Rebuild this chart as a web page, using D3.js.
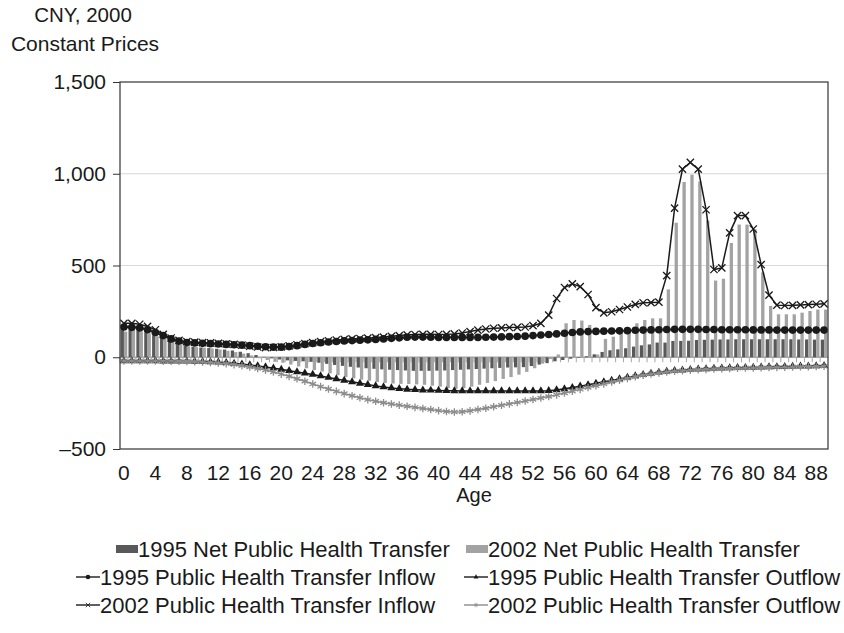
<!DOCTYPE html>
<html><head><meta charset="utf-8">
<script src="https://cdn.jsdelivr.net/npm/d3@7"></script>
<style>
body{margin:0;background:#fff}
svg{display:block}
text{font-family:"Liberation Sans",Arial,sans-serif;fill:#1a1a1a}
</style>
</head><body><svg id="c" width="844" height="633"></svg>
<script>
const ages = [0,1,2,3,4,5,6,7,8,9,10,11,12,13,14,15,16,17,18,19,20,21,22,23,24,25,26,27,28,29,30,31,32,33,34,35,36,37,38,39,40,41,42,43,44,45,46,47,48,49,50,51,52,53,54,55,56,57,58,59,60,61,62,63,64,65,66,67,68,69,70,71,72,73,74,75,76,77,78,79,80,81,82,83,84,85,86,87,88,89];
const net1995 = [150,150,145,135,120,105,90,75,62,57, 53,50,46,42,37,30,22,12,2,-6, -12,-17,-20,-22,-25,-30,-36,-42,-47,-52, -56,-60,-63,-66,-68,-70,-72,-74,-74,-74, -73,-72,-70,-68,-66,-64,-62,-60,-58,-56, -55,-54,-48,-40,-32,-22,-15,-8,-3,5, 16,29,38,43,49,58,65,70,80,80, 89,89,90,94,95,96,97,97,98,98, 98,98,98,98,98,98,97,97,96,96];
const net2002 = [140,150,140,130,115,100,85,70,60,55, 52,48,42,35,28,20,10,-5,-15,-25, -30,-40,-50,-60,-70,-78,-88,-98,-108,-115, -122,-128,-135,-140,-143,-145,-146,-148,-150,-155, -160,-168,-172,-168,-160,-150,-140,-130,-118,-108, -95,-80,-60,-35,-10,15,185,203,200,176, 15,100,112,135,150,185,203,212,212,370, 733,955,995,958,745,418,428,623,723,723, 698,462,280,234,234,234,243,252,260,260];
const inflow1995 = [165,163,160,150,135,118,100,88,80,78, 76,74,72,70,68,66,63,60,57,55, 55,58,63,70,75,79,83,86,89,91, 93,95,97,100,103,106,109,110,110,109, 108,108,108,108,108,108,109,110,111,112, 113,115,118,121,124,127,131,135,138,140, 141,142,143,144,145,147,148,149,150,151, 152,152,152,152,151,151,150,150,150,150, 149,149,149,148,148,148,148,148,148,148];
const outflow1995 = [-20,-20,-20,-20,-20,-21,-21,-22,-22,-23, -24,-25,-27,-30,-33,-37,-42,-47,-53,-60, -66,-73,-80,-87,-94,-102,-110,-118,-126,-134, -142,-149,-156,-162,-167,-171,-175,-177,-179,-180, -181,-182,-183,-184,-184,-184,-184,-184,-184,-184, -184,-184,-184,-184,-182,-178,-172,-165,-158,-150, -142,-134,-126,-118,-110,-102,-95,-88,-82,-77, -73,-70,-67,-65,-63,-61,-59,-58,-57,-56, -55,-54,-53,-52,-51,-50,-49,-48,-47,-46];
const inflow2002 = [185,185,180,168,150,125,105,92,85,82, 80,78,76,73,70,66,61,56,52,53, 57,62,68,74,80,85,90,94,97,100, 102,104,107,110,114,118,122,124,125,125, 124,125,127,132,140,148,154,158,160,162, 163,165,172,185,230,320,380,400,385,342, 270,242,248,260,274,288,297,298,300,445, 813,1025,1062,1025,804,478,487,678,772,772, 699,505,339,284,282,283,285,287,289,291];
const outflow2002 = [-20,-20,-20,-20,-20,-21,-21,-22,-23,-24, -26,-28,-31,-35,-40,-46,-53,-61,-70,-80, -92,-104,-117,-131,-146,-160,-173,-186,-198,-210, -221,-231,-240,-248,-255,-261,-267,-273,-279,-285, -291,-296,-298,-297,-292,-285,-278,-270,-262,-254, -246,-238,-230,-222,-214,-205,-195,-185,-175,-165, -155,-145,-135,-125,-115,-106,-98,-91,-85,-80, -76,-73,-70,-68,-66,-64,-62,-61,-60,-59, -58,-57,-56,-55,-54,-53,-52,-51,-50,-49];
const xTickValues = [0,4,8,12,16,20,24,28,32,36,40,44,48,52,56,60,64,68,72,76,80,84,88];
const yTickValues = [-500,0,500,1000,1500];
const yTickLabels = ["\u2013500","0","500","1,000","1,500"];
const barNames = ["1995 Net Public Health Transfer","2002 Net Public Health Transfer"];
const lineNames = ["1995 Public Health Transfer Inflow","1995 Public Health Transfer Outflow","2002 Public Health Transfer Inflow","2002 Public Health Transfer Outflow"];

const svg = d3.select("#c");
const L = 120, R = 828, T = 82, B = 449;
const x = d3.scaleBand().domain(ages).range([L, R]).paddingInner(0.16).paddingOuter(0.08);
const xs = d3.scaleBand().domain([0, 1]).range([0, x.bandwidth()]);
const y = d3.scaleLinear().domain([-500, 1500]).range([B, T]);
const step = x.step();
const cx = a => x(a) + x.bandwidth() / 2;

const DARK = "#595959", LIGHT = "#a3a3a3", GRAYLINE = "#8c8c8c", INK = "#1a1a1a";

svg.append("g").selectAll("line").data(yTickValues.filter(v => v > 0 && v < 1500)).join("line")
  .attr("x1", L).attr("x2", R).attr("y1", d => y(d)).attr("y2", d => y(d))
  .attr("stroke", "#d9d9d9").attr("stroke-width", 1);

svg.append("line").attr("x1", L).attr("x2", R).attr("y1", y(0)).attr("y2", y(0))
  .attr("stroke", "#a6a6a6").attr("stroke-width", 1.5);
svg.append("g").selectAll("line").data(ages).join("line")
  .attr("x1", d => x(d) - step * 0.08).attr("x2", d => x(d) - step * 0.08)
  .attr("y1", y(0)).attr("y2", y(0) + 5)
  .attr("stroke", "#a6a6a6").attr("stroke-width", 1);

const barSeries = [net1995, net2002];
const barColors = [DARK, LIGHT];
barSeries.forEach((vals, si) => {
  svg.append("g").selectAll("rect").data(ages).join("rect")
    .attr("x", d => x(d) + xs(si))
    .attr("width", xs.bandwidth())
    .attr("y", (d, i) => y(Math.max(0, vals[i])))
    .attr("height", (d, i) => Math.abs(y(vals[i]) - y(0)))
    .attr("fill", barColors[si]);
});

const lineSeries = [
  {vals: inflow1995, color: INK, sym: "circle", w: 1.8},
  {vals: outflow1995, color: INK, sym: "triangle", w: 1.5},
  {vals: outflow2002, color: GRAYLINE, sym: "asterisk", w: 1.5},
  {vals: inflow2002, color: INK, sym: "times", w: 1.5}
];
function marker(sel, sym, color) {
  if (sym === "circle") sel.attr("d", d3.symbol(d3.symbolCircle, 46)()).attr("fill", color);
  else if (sym === "triangle") sel.attr("d", d3.symbol(d3.symbolTriangle, 28)()).attr("fill", color);
  else if (sym === "times") sel.attr("d", d3.symbol(d3.symbolTimes, 36)()).attr("fill", "none").attr("stroke", color).attr("stroke-width", 1.3);
  else sel.attr("d", d3.symbol(d3.symbolAsterisk, 40)()).attr("fill", "none").attr("stroke", color).attr("stroke-width", 1.3);
}
lineSeries.forEach(s => {
  const line = d3.line().x((d, i) => cx(ages[i])).y(d => y(d));
  svg.append("path").datum(s.vals).attr("d", line).attr("fill", "none")
    .attr("stroke", s.color).attr("stroke-width", s.w);
  svg.append("g").selectAll("path").data(s.vals).join("path")
    .attr("transform", (d, i) => `translate(${cx(ages[i])},${y(d)})`)
    .call(marker, s.sym, s.color);
});

svg.append("rect").attr("x", L).attr("y", T).attr("width", R - L).attr("height", B - T)
  .attr("fill", "none").attr("stroke", "#333").attr("stroke-width", 1.2);

const yAxis = d3.axisLeft(y).tickValues(yTickValues).tickSize(7).tickPadding(7)
  .tickFormat((d, i) => yTickLabels[i]);
const ga = svg.append("g").attr("transform", `translate(${L},0)`).call(yAxis);
ga.select(".domain").remove();
ga.selectAll(".tick line").attr("stroke", "#333");
ga.selectAll("text").attr("font-size", 21).attr("font-family", '"Liberation Sans",Arial,sans-serif').attr("fill", INK);

svg.append("g").selectAll("text").data(xTickValues).join("text")
  .attr("x", d => cx(d)).attr("y", 480).attr("text-anchor", "middle")
  .attr("font-size", 21).text(d => d);

svg.append("text").attr("x", (L + R) / 2).attr("y", 502).attr("text-anchor", "middle")
  .attr("font-size", 20).text("Age");

svg.append("text").attr("x", 83).attr("y", 22).attr("text-anchor", "middle")
  .attr("font-size", 20.5).text("CNY, 2000");
svg.append("text").attr("x", 85).attr("y", 51).attr("text-anchor", "middle")
  .attr("font-size", 21).text("Constant Prices");

// legend
const FS = 22;
const lg = svg.append("g");
const rowY = [549, 577, 605];
const swX = [116, 466];
barNames.forEach((n, i) => {
  lg.append("rect").attr("x", swX[i]).attr("y", rowY[0] - 4).attr("width", 22).attr("height", 8).attr("fill", barColors[i]);
  lg.append("text").attr("x", swX[i] + 22).attr("y", rowY[0] + 7.5).attr("font-size", FS).text(n);
});
const lnX = [76, 464];
const legLines = [
  {name: lineNames[0], color: INK, sym: "circle", col: 0, row: 1},
  {name: lineNames[1], color: INK, sym: "triangle", col: 1, row: 1},
  {name: lineNames[2], color: INK, sym: "times", col: 0, row: 2},
  {name: lineNames[3], color: GRAYLINE, sym: "asterisk", col: 1, row: 2}
];
legLines.forEach(it => {
  const x0 = lnX[it.col], yy = rowY[it.row];
  lg.append("line").attr("x1", x0).attr("x2", x0 + 24).attr("y1", yy).attr("y2", yy)
    .attr("stroke", it.color).attr("stroke-width", 1.4);
  const m = lg.append("path");
  marker(m, it.sym, it.color);
  m.attr("transform", `translate(${x0 + 12},${yy}) scale(0.6)`);
  lg.append("text").attr("x", x0 + 24).attr("y", yy + 7.5).attr("font-size", FS).text(it.name);
});
</script>
</body></html>
